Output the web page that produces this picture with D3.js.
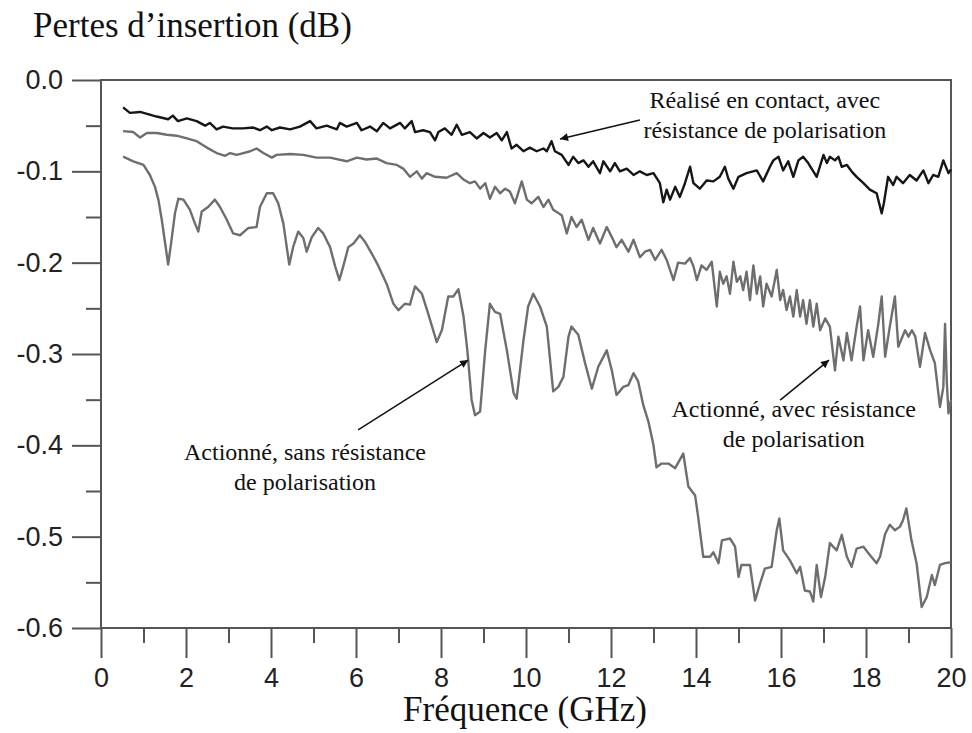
<!DOCTYPE html>
<html>
<head>
<meta charset="utf-8">
<script src="https://cdn.jsdelivr.net/npm/d3@7"></script>
<style>
  html, body { margin: 0; padding: 0; background: #fff; }
  svg { display: block; }
</style>
</head>
<body>
<svg id="chart" width="972" height="733"></svg>
<script>
// Insertion loss (dB) versus frequency (GHz) for three switch states.

// "Réalisé en contact, avec résistance de polarisation"
const freqContact = [0.52,0.68,0.92,1.31,1.58,1.69,1.81,2.02,2.25,2.45,2.56,2.72,2.87,3.1,3.34,3.58,3.74,3.9,4.02,4.21,4.45,4.68,4.92,5.07,5.31,5.55,5.62,5.78,6.02,6.13,6.33,6.49,6.64,6.8,7.04,7.15,7.31,7.39,7.58,7.74,7.86,7.94,8.09,8.25,8.37,8.49,8.68,8.84,9.0,9.15,9.31,9.43,9.55,9.66,9.78,9.94,10.09,10.25,10.41,10.49,10.6,10.68,10.84,11.0,11.11,11.23,11.35,11.47,11.58,11.74,11.82,11.98,12.09,12.21,12.37,12.53,12.68,12.84,13.0,13.15,13.23,13.31,13.39,13.51,13.62,13.74,13.86,13.94,14.09,14.25,14.41,14.56,14.68,14.76,14.88,15.0,15.19,15.43,15.58,15.74,15.82,15.94,16.05,16.17,16.29,16.41,16.52,16.64,16.84,17.0,17.08,17.15,17.27,17.35,17.43,17.55,17.66,17.78,17.94,18.09,18.25,18.37,18.42,18.52,18.64,18.72,18.87,19.03,19.19,19.35,19.47,19.58,19.7,19.82,19.94,20.0];
const lossContact = [-0.030,-0.036,-0.035,-0.040,-0.043,-0.039,-0.045,-0.042,-0.045,-0.050,-0.047,-0.054,-0.051,-0.053,-0.053,-0.052,-0.055,-0.051,-0.055,-0.052,-0.054,-0.051,-0.045,-0.053,-0.050,-0.054,-0.047,-0.051,-0.047,-0.055,-0.051,-0.056,-0.047,-0.053,-0.047,-0.053,-0.045,-0.057,-0.055,-0.057,-0.066,-0.057,-0.053,-0.060,-0.049,-0.060,-0.057,-0.064,-0.058,-0.063,-0.058,-0.066,-0.057,-0.075,-0.071,-0.078,-0.074,-0.078,-0.075,-0.078,-0.067,-0.078,-0.082,-0.093,-0.084,-0.091,-0.088,-0.095,-0.089,-0.102,-0.089,-0.100,-0.091,-0.100,-0.097,-0.104,-0.100,-0.104,-0.102,-0.113,-0.134,-0.120,-0.131,-0.117,-0.128,-0.113,-0.095,-0.113,-0.119,-0.110,-0.111,-0.106,-0.095,-0.108,-0.119,-0.106,-0.102,-0.099,-0.111,-0.095,-0.088,-0.084,-0.099,-0.089,-0.106,-0.088,-0.084,-0.091,-0.106,-0.082,-0.091,-0.084,-0.088,-0.084,-0.095,-0.093,-0.100,-0.106,-0.113,-0.120,-0.124,-0.146,-0.135,-0.106,-0.115,-0.106,-0.113,-0.104,-0.110,-0.099,-0.113,-0.104,-0.106,-0.088,-0.102,-0.098];

// "Actionné, avec résistance de polarisation"
const freqWithBias = [0.52,0.76,0.92,1.08,1.31,1.55,1.78,2.02,2.25,2.49,2.72,2.92,3.04,3.19,3.35,3.51,3.66,3.82,4.02,4.13,4.45,4.76,5.07,5.39,5.78,6.02,6.25,6.49,6.72,6.96,7.11,7.27,7.43,7.55,7.66,7.86,8.13,8.37,8.53,8.68,8.8,8.92,9.04,9.15,9.27,9.39,9.51,9.62,9.74,9.9,10.02,10.13,10.29,10.41,10.53,10.64,10.84,10.96,11.07,11.19,11.31,11.47,11.58,11.74,11.9,12.02,12.13,12.25,12.41,12.53,12.68,12.8,12.92,13.04,13.19,13.31,13.47,13.58,13.74,13.86,13.94,14.02,14.13,14.25,14.37,14.49,14.56,14.64,14.72,14.8,14.88,14.96,15.04,15.11,15.19,15.27,15.35,15.43,15.51,15.58,15.66,15.78,15.9,15.98,16.05,16.13,16.21,16.29,16.37,16.45,16.52,16.6,16.68,16.76,16.84,16.92,17.04,17.15,17.27,17.35,17.47,17.55,17.66,17.78,17.86,17.94,18.05,18.17,18.29,18.37,18.45,18.56,18.68,18.76,18.92,19.0,19.08,19.16,19.27,19.39,19.51,19.62,19.74,19.82,19.86,19.9,19.94,20.0];
const lossWithBias = [-0.056,-0.057,-0.063,-0.058,-0.058,-0.060,-0.061,-0.064,-0.067,-0.074,-0.080,-0.083,-0.080,-0.082,-0.080,-0.078,-0.075,-0.080,-0.085,-0.082,-0.081,-0.082,-0.085,-0.085,-0.089,-0.085,-0.087,-0.086,-0.091,-0.093,-0.097,-0.106,-0.100,-0.108,-0.102,-0.106,-0.107,-0.102,-0.109,-0.113,-0.111,-0.119,-0.113,-0.130,-0.117,-0.124,-0.119,-0.122,-0.135,-0.111,-0.131,-0.135,-0.128,-0.139,-0.131,-0.142,-0.148,-0.168,-0.150,-0.161,-0.153,-0.175,-0.162,-0.179,-0.161,-0.172,-0.183,-0.175,-0.188,-0.175,-0.194,-0.188,-0.186,-0.197,-0.186,-0.197,-0.219,-0.200,-0.201,-0.195,-0.204,-0.219,-0.203,-0.208,-0.199,-0.248,-0.210,-0.223,-0.215,-0.234,-0.199,-0.221,-0.215,-0.230,-0.210,-0.241,-0.203,-0.234,-0.215,-0.248,-0.223,-0.237,-0.208,-0.241,-0.230,-0.252,-0.237,-0.259,-0.230,-0.259,-0.241,-0.267,-0.241,-0.270,-0.245,-0.274,-0.261,-0.270,-0.318,-0.281,-0.307,-0.277,-0.307,-0.270,-0.248,-0.307,-0.274,-0.303,-0.267,-0.237,-0.303,-0.270,-0.237,-0.292,-0.274,-0.281,-0.274,-0.281,-0.314,-0.277,-0.296,-0.310,-0.358,-0.336,-0.267,-0.329,-0.365,-0.350];

// "Actionné, sans résistance de polarisation"
const freqNoBias = [0.52,0.76,1.0,1.15,1.27,1.35,1.43,1.51,1.58,1.66,1.74,1.82,1.94,2.09,2.21,2.29,2.37,2.52,2.68,2.8,2.96,3.11,3.27,3.47,3.66,3.74,3.9,4.05,4.17,4.29,4.43,4.52,4.64,4.76,4.84,4.96,5.11,5.23,5.39,5.51,5.61,5.7,5.82,5.94,6.09,6.21,6.37,6.52,6.72,6.88,7.0,7.15,7.27,7.39,7.55,7.7,7.9,8.02,8.17,8.29,8.41,8.53,8.62,8.72,8.8,8.92,9.04,9.15,9.27,9.39,9.55,9.71,9.78,9.94,10.05,10.17,10.33,10.49,10.64,10.76,10.88,11.0,11.07,11.23,11.39,11.55,11.7,11.9,12.02,12.13,12.29,12.41,12.53,12.64,12.76,12.88,13.0,13.07,13.19,13.35,13.51,13.7,13.82,13.98,14.05,14.17,14.33,14.41,14.53,14.61,14.8,14.92,15.0,15.07,15.27,15.39,15.51,15.62,15.78,15.9,15.96,16.05,16.21,16.37,16.45,16.56,16.68,16.76,16.84,16.94,17.04,17.15,17.31,17.43,17.55,17.66,17.78,17.94,18.09,18.25,18.33,18.45,18.56,18.68,18.8,18.87,18.95,19.07,19.19,19.31,19.43,19.55,19.62,19.74,19.86,20.0];
const lossNoBias = [-0.084,-0.089,-0.093,-0.104,-0.117,-0.131,-0.153,-0.179,-0.202,-0.175,-0.146,-0.130,-0.131,-0.142,-0.157,-0.166,-0.144,-0.139,-0.131,-0.139,-0.153,-0.168,-0.170,-0.162,-0.161,-0.139,-0.124,-0.124,-0.135,-0.157,-0.202,-0.183,-0.166,-0.173,-0.188,-0.172,-0.162,-0.168,-0.183,-0.204,-0.219,-0.204,-0.183,-0.179,-0.170,-0.177,-0.190,-0.203,-0.223,-0.245,-0.252,-0.245,-0.246,-0.226,-0.234,-0.256,-0.287,-0.274,-0.237,-0.237,-0.229,-0.259,-0.296,-0.350,-0.367,-0.363,-0.296,-0.245,-0.254,-0.256,-0.296,-0.343,-0.349,-0.285,-0.248,-0.234,-0.248,-0.270,-0.341,-0.336,-0.325,-0.281,-0.270,-0.279,-0.310,-0.338,-0.314,-0.296,-0.318,-0.345,-0.336,-0.334,-0.321,-0.330,-0.356,-0.374,-0.400,-0.424,-0.420,-0.420,-0.425,-0.409,-0.445,-0.455,-0.478,-0.522,-0.522,-0.517,-0.529,-0.504,-0.502,-0.511,-0.544,-0.531,-0.531,-0.570,-0.551,-0.535,-0.533,-0.493,-0.480,-0.515,-0.526,-0.540,-0.533,-0.559,-0.560,-0.571,-0.531,-0.566,-0.544,-0.507,-0.515,-0.498,-0.522,-0.533,-0.513,-0.511,-0.520,-0.529,-0.522,-0.497,-0.487,-0.493,-0.489,-0.482,-0.469,-0.504,-0.529,-0.577,-0.566,-0.542,-0.553,-0.531,-0.529,-0.528];

// Axis ticks
const xMajorTicks = [0,2,4,6,8,10,12,14,16,18,20];
const xMinorTicks = [1,3,5,7,9,11,13,15,17,19];
const yMajorTicks = [0,-0.1,-0.2,-0.3,-0.4,-0.5,-0.6];
const yMinorTicks = [-0.05,-0.15,-0.25,-0.35,-0.45,-0.55];

// Text
const yTitle = "Pertes d’insertion (dB)";
const xTitle = "Fréquence (GHz)";

// Annotations: text lines, text anchor (GHz, dB), arrow tail and head (GHz, dB)
const noteLines = [
  ["Réalisé en contact, avec", "résistance de polarisation"],
  ["Actionné, sans résistance", "de polarisation"],
  ["Actionné, avec résistance", "de polarisation"]
];
const noteAnchor = [[15.62, -0.0307], [4.8, -0.416], [16.3, -0.369]];
const arrowTail = [[12.68, -0.0438], [6.05, -0.383], [15.98, -0.3505]];
const arrowHead = [[10.8, -0.0646], [8.64, -0.3067], [17.13, -0.3067]];

const svg = d3.select("#chart");
const plot = { left: 101, right: 951, top: 80, bottom: 628 };

const x = d3.scaleLinear().domain([0, 20]).range([plot.left, plot.right]);
const y = d3.scaleLinear().domain([0, -0.6]).range([plot.top, plot.bottom]);

const axisColor = "#555";
const sansFont = "'Liberation Sans', Arial, sans-serif";
const serifFont = "'Liberation Serif', 'Times New Roman', serif";

// Plot frame
svg.append("rect")
  .attr("x", plot.left).attr("y", plot.top)
  .attr("width", plot.right - plot.left).attr("height", plot.bottom - plot.top)
  .attr("fill", "none").attr("stroke", axisColor).attr("stroke-width", 2);

// Left axis
const fmtY = v => d3.format(".1f")(v).replace("−", "-");
const gy = svg.append("g").attr("transform", `translate(${plot.left},0)`)
  .call(d3.axisLeft(y).tickValues(yMajorTicks).tickSize(29).tickPadding(9).tickFormat(fmtY));
gy.select(".domain").remove();
gy.selectAll(".tick line").attr("stroke", axisColor).attr("stroke-width", 2);
gy.selectAll(".tick text")
  .attr("font-family", sansFont).attr("font-size", 27).attr("fill", "#222");
const gyMinor = svg.append("g").attr("transform", `translate(${plot.left},0)`)
  .call(d3.axisLeft(y).tickValues(yMinorTicks).tickSize(15).tickFormat(""));
gyMinor.select(".domain").remove();
gyMinor.selectAll(".tick line").attr("stroke", axisColor).attr("stroke-width", 2);

// Bottom axis
const gx = svg.append("g").attr("transform", `translate(0,${plot.bottom})`)
  .call(d3.axisBottom(x).tickValues(xMajorTicks).tickSize(30).tickPadding(10).tickFormat(d3.format("d")));
gx.select(".domain").remove();
gx.selectAll(".tick line").attr("stroke", axisColor).attr("stroke-width", 2);
gx.selectAll(".tick text")
  .attr("font-family", sansFont).attr("font-size", 27).attr("fill", "#222");
const gxMinor = svg.append("g").attr("transform", `translate(0,${plot.bottom})`)
  .call(d3.axisBottom(x).tickValues(xMinorTicks).tickSize(15).tickFormat(""));
gxMinor.select(".domain").remove();
gxMinor.selectAll(".tick line").attr("stroke", axisColor).attr("stroke-width", 2);

// Curves
const line = d3.line().x(d => x(d[0])).y(d => y(d[1]));
const series = [
  { f: freqNoBias, v: lossNoBias, color: "#6e6e6e" },
  { f: freqWithBias, v: lossWithBias, color: "#6e6e6e" },
  { f: freqContact, v: lossContact, color: "#161616" }
];
series.forEach(s => {
  svg.append("path")
    .datum(d3.zip(s.f, s.v))
    .attr("d", line)
    .attr("fill", "none")
    .attr("stroke", s.color)
    .attr("stroke-width", 2.4)
    .attr("stroke-linejoin", "round");
});

// Arrow markers
svg.append("defs").append("marker")
  .attr("id", "head")
  .attr("viewBox", "0 0 10 10")
  .attr("refX", 10).attr("refY", 5)
  .attr("markerWidth", 11).attr("markerHeight", 8)
  .attr("markerUnits", "userSpaceOnUse")
  .attr("orient", "auto")
  .append("path").attr("d", "M0,0 L10,5 L0,10 Z").attr("fill", "#111");

noteLines.forEach((lines, i) => {
  svg.append("line")
    .attr("x1", x(arrowTail[i][0])).attr("y1", y(arrowTail[i][1]))
    .attr("x2", x(arrowHead[i][0])).attr("y2", y(arrowHead[i][1]))
    .attr("stroke", "#111").attr("stroke-width", 1.5)
    .attr("marker-end", "url(#head)");
  const t = svg.append("text")
    .attr("font-family", serifFont).attr("font-size", 24).attr("fill", "#111")
    .attr("text-anchor", "middle");
  lines.forEach((ln, k) => {
    t.append("tspan")
      .attr("x", x(noteAnchor[i][0]))
      .attr("y", y(noteAnchor[i][1]) + k * 30)
      .text(ln);
  });
});

// Axis titles
svg.append("text")
  .attr("x", 33).attr("y", 37)
  .attr("font-family", serifFont).attr("font-size", 35).attr("fill", "#111")
  .text(yTitle);
svg.append("text")
  .attr("x", (plot.left + plot.right) / 2 - 1).attr("y", 721)
  .attr("text-anchor", "middle")
  .attr("font-family", serifFont).attr("font-size", 35).attr("fill", "#111")
  .text(xTitle);
</script>
</body>
</html>
